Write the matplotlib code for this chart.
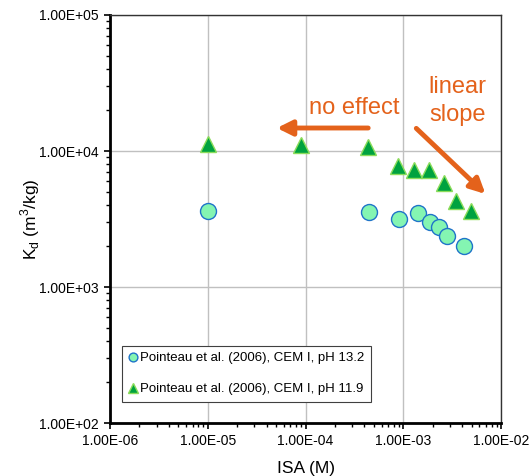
import matplotlib
matplotlib.use("Agg")
import matplotlib.pyplot as plt
from matplotlib.ticker import LogLocator, FixedLocator, NullFormatter

plt.rcParams['font.family'] = ['Liberation Sans', 'DejaVu Sans']
plt.rcParams['mathtext.fontset'] = 'custom'
plt.rcParams['mathtext.rm'] = 'Liberation Sans'

# Pointeau et al. (2006), CEM I, pH 13.2
isa_132 = [1.0e-5, 4.45e-4, 9.0e-4, 1.40e-3, 1.89e-3, 2.32e-3, 2.81e-3, 4.23e-3]
kd_132 = [3640, 3580, 3150, 3480, 2990, 2770, 2380, 2000]

# Pointeau et al. (2006), CEM I, pH 11.9
isa_119 = [1.0e-5, 8.9e-5, 4.4e-4, 8.8e-4, 1.29e-3, 1.82e-3, 2.64e-3, 3.44e-3, 4.94e-3]
kd_119 = [11250, 11000, 10770, 7800, 7240, 7240, 5850, 4310, 3640]

x_ticks = [1e-6, 1e-5, 1e-4, 1e-3, 1e-2]
y_ticks = [1e2, 1e3, 1e4, 1e5]
orange = '#E4621B'

fig = plt.figure(figsize=(5.32, 4.76), dpi=100)
ax = fig.add_axes([0.2068, 0.1113, 0.7349, 0.8572])

ax.set_xscale('log')
ax.set_yscale('log')
ax.set_xlim(1e-6, 1e-2)
ax.set_ylim(1e2, 1e5)

ax.grid(True, which='major', color='#c0c0c0', linewidth=1.0)
ax.set_axisbelow(True)

ax.plot(isa_132, kd_132, linestyle='none', marker='o', markersize=11.5,
        markerfacecolor='#84F5B2', markeredgecolor='#1F74C9', markeredgewidth=1.0,
        label='Pointeau et al. (2006), CEM I, pH 13.2')
ax.plot(isa_119, kd_119, linestyle='none', marker='^', markersize=12,
        markerfacecolor='#00A23F', markeredgecolor='#8BDC5A', markeredgewidth=1.0,
        label='Pointeau et al. (2006), CEM I, pH 11.9')

# annotations
ax.annotate('', xy=(5.1e-5, 14760), xytext=(4.38e-4, 14760),
            arrowprops=dict(arrowstyle='-|>,head_length=0.9,head_width=0.45',
                            color=orange, lw=3.5, shrinkA=0, shrinkB=0))
ax.annotate('', xy=(6.93e-3, 4830), xytext=(1.36e-3, 14670),
            arrowprops=dict(arrowstyle='-|>,head_length=0.9,head_width=0.45',
                            color=orange, lw=3.5, shrinkA=0, shrinkB=0))
ax.text(3.13e-4, 20700, 'no effect', color=orange, fontsize=17,
        ha='center', va='center')
ax.text(3.56e-3, 23400, 'linear\nslope', color=orange, fontsize=17,
        ha='center', va='center', linespacing=1.35)

ax.xaxis.set_major_locator(FixedLocator(x_ticks))
ax.yaxis.set_major_locator(FixedLocator(y_ticks))
ax.xaxis.set_minor_locator(LogLocator(base=10, subs=range(2, 10)))
ax.yaxis.set_minor_locator(LogLocator(base=10, subs=range(2, 10)))
ax.xaxis.set_minor_formatter(NullFormatter())
ax.yaxis.set_minor_formatter(NullFormatter())
ax.set_xticklabels(['%.2E' % v for v in x_ticks])
ax.set_yticklabels(['%.2E' % v for v in y_ticks])
ax.tick_params(which='major', direction='out', length=4, width=1.2,
               labelsize=10, pad=4)
ax.tick_params(which='minor', direction='out', length=3, width=1.0)

for side in ['left', 'bottom']:
    ax.spines[side].set_linewidth(2.0)
    ax.spines[side].set_color('black')
for side in ['top', 'right']:
    ax.spines[side].set_linewidth(1.0)
    ax.spines[side].set_color('#333333')

ax.set_xlabel('ISA (M)', fontsize=12.5, labelpad=9)
ax.set_ylabel(r'K$_\mathregular{d}$ (m$^\mathregular{3}$/kg)', fontsize=12.5, labelpad=-2)

leg = ax.legend(loc='lower left', bbox_to_anchor=(0.031, 0.052), borderaxespad=0,
                fontsize=9.5, fancybox=False, edgecolor='#404040', framealpha=1,
                handlelength=0.6, handletextpad=0.25, markerscale=0.55,
                borderpad=0.5, labelspacing=1.4)
leg.get_frame().set_linewidth(0.8)

fig.savefig('out.png', dpi=100)
